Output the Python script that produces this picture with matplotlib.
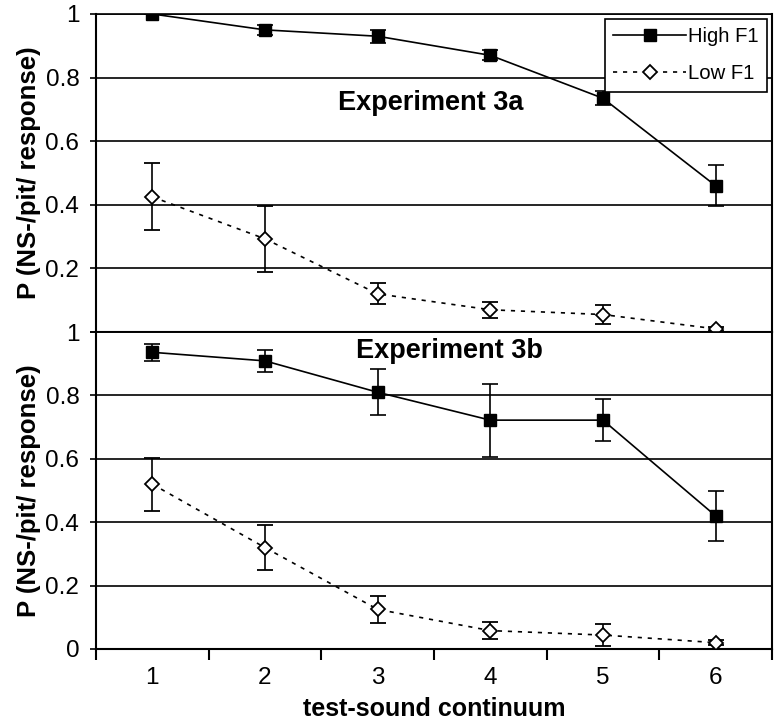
import numpy as np
import matplotlib
matplotlib.use("Agg")
import matplotlib.pyplot as plt
from matplotlib.ticker import FixedLocator, NullFormatter

plt.rcParams['font.family'] = ['Liberation Sans', 'DejaVu Sans']

# Data
steps = [1, 2, 3, 4, 5, 6]

high_3a = [1.0, 0.95, 0.93, 0.87, 0.735, 0.46]
high_3a_err = [0.0, 0.016, 0.02, 0.016, 0.022, 0.065]
low_3a = [0.425, 0.293, 0.12, 0.07, 0.055, 0.01]
low_3a_err = [0.105, 0.103, 0.033, 0.025, 0.03, 0.006]

high_3b = [0.936, 0.909, 0.81, 0.722, 0.722, 0.42]
high_3b_err = [0.026, 0.034, 0.072, 0.115, 0.066, 0.078]
low_3b = [0.52, 0.32, 0.125, 0.058, 0.044, 0.02]
low_3b_err = [0.084, 0.072, 0.043, 0.028, 0.036, 0.008]

ylabel = "P (NS-/pit/ response)"
xlabel = "test-sound continuum"

fig = plt.figure(figsize=(7.76, 7.24), dpi=100)
ax_top = fig.add_axes([0.1237, 0.5414, 0.8711, 0.4393])
ax_bot = fig.add_axes([0.1237, 0.1036, 0.8711, 0.4378])


def draw_panel(ax, high, high_err, low, low_err, title, tx, ty, bottom):
    ax.errorbar(steps, high, yerr=high_err, color='black', lw=1.2, ls='-',
                marker='s', ms=8.5, mfc='black', mec='black',
                capsize=6, elinewidth=1.2, capthick=1.2, label='High F1', zorder=3)
    ax.errorbar(steps, low, yerr=low_err, color='black', lw=1.2, ls=(0, (2.5, 3.5)),
                marker='D', ms=7.5, mfc='white', mec='black', mew=1.3,
                capsize=6, elinewidth=1.2, capthick=1.2, label='Low F1', zorder=3)
    ax.set_xlim(0.5, 6.5)
    ax.set_ylim(0, 1)
    ax.set_yticks([0, 0.2, 0.4, 0.6, 0.8, 1.0])
    if bottom:
        ax.set_yticklabels(['0', '0.2', '0.4', '0.6', '0.8', '1'])
    else:
        ax.set_yticklabels(['', '0.2', '0.4', '0.6', '0.8', '1'])
    ax.yaxis.grid(True, color='black', lw=1.2)
    ax.set_axisbelow(True)
    ax.tick_params(axis='y', length=4, width=1.2, labelsize=17.5, pad=8)
    ax.set_xticks(steps)
    ax.xaxis.set_minor_locator(FixedLocator(np.arange(0.5, 7.0, 1.0)))
    ax.xaxis.set_minor_formatter(NullFormatter())
    if bottom:
        ax.tick_params(axis='x', which='major', length=0, labelsize=17.5, pad=13)
        ax.tick_params(axis='x', which='minor', length=8, width=1.5, direction='out')
        ax.set_xlabel(xlabel, fontsize=18, fontweight='bold', labelpad=6)
    else:
        ax.tick_params(axis='x', which='both', length=0, labelbottom=False)
    for s in ax.spines.values():
        s.set_linewidth(1.5)
    ax.spines['top'].set_linewidth(1.2)
    ax.set_ylabel(ylabel, fontsize=18.5, fontweight='bold', labelpad=3)
    ax.text(tx, ty, title, fontsize=19.5, fontweight='bold', ha='center', va='center')


draw_panel(ax_top, high_3a, high_3a_err, low_3a, low_3a_err,
           "Experiment 3a", 3.47, 0.72, bottom=False)
draw_panel(ax_bot, high_3b, high_3b_err, low_3b, low_3b_err,
           "Experiment 3b", 3.64, 0.94, bottom=True)

# legend without the errorbar glyphs
h, l = ax_top.get_legend_handles_labels()
h = [hh[0] for hh in h]
leg = ax_top.legend(h, l, loc='upper right', fontsize=14.6, frameon=True, fancybox=False,
                    edgecolor='black', framealpha=1, borderaxespad=0.25,
                    handlelength=3.6, handletextpad=0.1, borderpad=0.4,
                    labelspacing=0.9)
leg.get_frame().set_linewidth(1.2)
leg.set_zorder(5)

fig.savefig("out.png", dpi=100)
